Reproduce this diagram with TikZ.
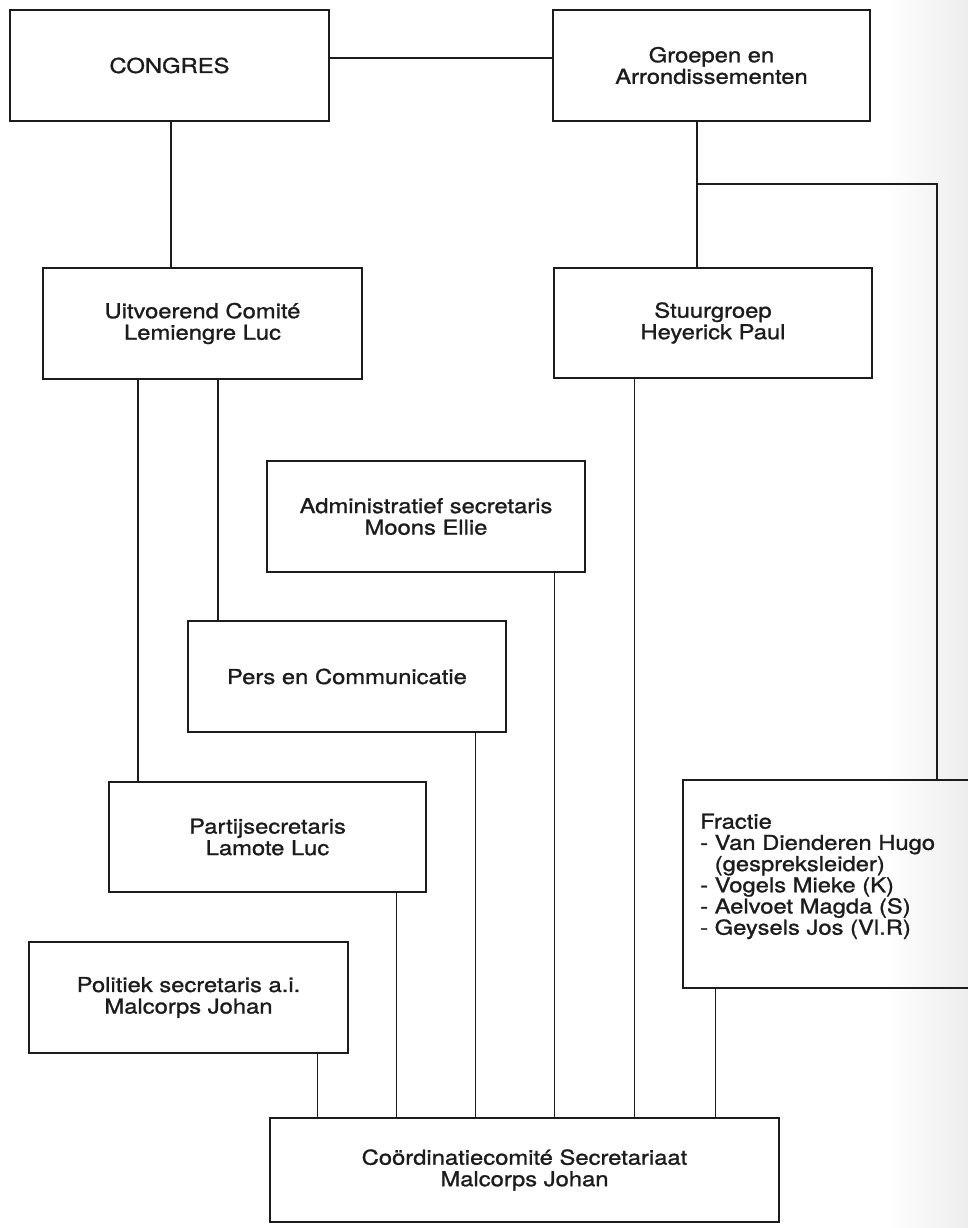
\documentclass[tikz,border=0pt]{standalone}
\usepackage{fontspec}
\setmainfont{TeX Gyre Heros}[FakeStretch=1.16, FakeBold=1.2]
\definecolor{ink}{HTML}{1C1C1C}
\begin{document}
\begin{tikzpicture}[x=1pt,y=-1pt,
  box/.style={draw=ink, line width=1.8pt, rectangle, inner sep=0pt, align=center,
    text=ink, font=\fontsize{20.5}{21.5}\selectfont, minimum width=318pt, minimum height=111pt},
  txt/.style={inner sep=0pt, text=ink, font=\fontsize{20.5}{21.2}\selectfont},
  thickconn/.style={draw=ink, line width=1.5pt},
  thinconn/.style={draw=ink, line width=1.0pt}]
\useasboundingbox (0,0) rectangle (968,1228);
\clip (0,0) rectangle (968,1228);
\shade[left color=white, right color=black!7] (885,0) rectangle (968,1228);
% boxes
\node[box, minimum width=319pt] (congres) at (169.5,65.5) {CONGRES};
\node[box, minimum width=317pt] (groepen) at (711.5,65.5) {Groepen en\\Arrondissementen};
\node[box, minimum width=319pt] (uitv) at (202.5,323.5) {Uitvoerend Comité\\Lemiengre Luc};
\node[box, minimum height=110pt] (stuur) at (713,323) {Stuurgroep\\Heyerick Paul};
\node[box] (admin) at (426,516.5) {Administratief secretaris\\Moons Ellie};
\node[box] (pers) at (347,676.5) {Pers en Communicatie};
\node[box, minimum width=317pt, minimum height=110pt] (partij) at (267.5,837) {Partijsecretaris\\Lamote Luc};
\node[box, minimum width=319pt] (politiek) at (188.5,997.5) {Politiek secretaris a.i.\\Malcorps Johan};
\node[box, minimum width=509pt, minimum height=104pt] (coord) at (524.5,1170) {Coördinatiecomité Secretariaat\\Malcorps Johan};
\node[box, minimum width=317pt, minimum height=208pt] (fractie) at (841.5,884) {};
\node[txt, anchor=north west, align=left] (fractietext) at (700,813.5)
  {Fractie\\- Van Dienderen Hugo\\\hphantom{-\ }(gespreksleider)\\- Vogels Mieke (K)\\- Aelvoet Magda (S)\\- Geysels Jos (Vl.R)};
% connectors
\draw[thickconn] ([yshift=7.5pt]congres.east) -- ([yshift=7.5pt]groepen.west);
\draw[thickconn] ([xshift=1.5pt]congres.south) -- ([xshift=1.5pt]congres.south |- uitv.north);
\draw[thickconn] ([xshift=-14.5pt]groepen.south) -- ([xshift=-14.5pt]groepen.south |- stuur.north);
\coordinate (br) at (697,184);
\draw[thickconn] (br) -| ([xshift=95.5pt]fractie.north);
\draw[thickconn] ([xshift=-64.5pt]uitv.south) -- ([xshift=-64.5pt]uitv.south |- partij.north);
\draw[thickconn] ([xshift=15.5pt]uitv.south) -- ([xshift=15.5pt]uitv.south |- pers.north);
\draw[thinconn] ([xshift=-79pt]stuur.south) -- ([xshift=-79pt]stuur.south |- coord.north);
\draw[thinconn] ([xshift=128pt]admin.south) -- ([xshift=128pt]admin.south |- coord.north);
\draw[thinconn] ([xshift=128pt]pers.south) -- ([xshift=128pt]pers.south |- coord.north);
\draw[thinconn] ([xshift=128.5pt]partij.south) -- ([xshift=128.5pt]partij.south |- coord.north);
\draw[thinconn] ([xshift=128.5pt]politiek.south) -- ([xshift=128.5pt]politiek.south |- coord.north);
\draw[thinconn] ([xshift=-126.5pt]fractie.south) -- ([xshift=-126.5pt]fractie.south |- coord.north);
\end{tikzpicture}
\end{document}
